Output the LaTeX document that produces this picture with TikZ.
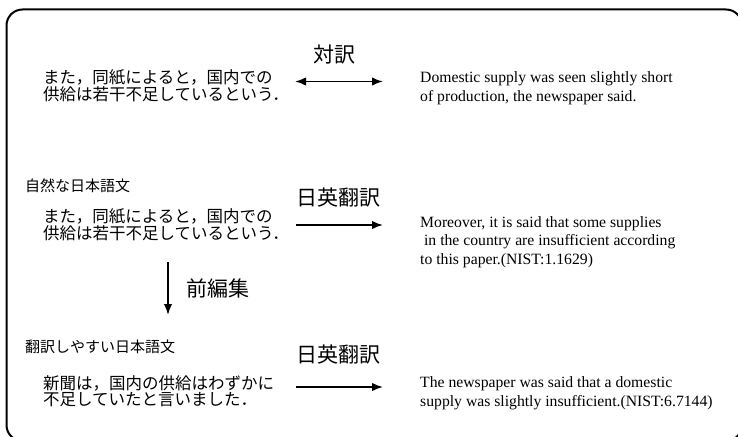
\documentclass[tikz,border=0pt]{standalone}
\usepackage{fontspec}
\setmainfont{Liberation Serif}
\newfontfamily\jp{Noto Sans CJK JP}
\usetikzlibrary{arrows.meta}
\tikzset{
  jptext/.style={anchor=west, inner sep=0pt, align=left, font={\jp\fontsize{16.5}{15.5}\selectfont}},
  entext/.style={anchor=west, inner sep=0pt, align=left, font={\fontsize{15.7}{18.5}\selectfont}},
  caption/.style={anchor=west, inner sep=0pt, font={\jp\fontsize{15}{15}\selectfont}},
  biglabel/.style={inner sep=0pt, font={\jp\fontsize{21}{21}\selectfont}},
  conn/.style={line width=1.8pt, -{Latex[length=11pt,width=8.5pt]}},
  dconn/.style={line width=1.8pt, {Latex[length=11pt,width=8.5pt]}-{Latex[length=11pt,width=8.5pt]}},
  frame/.style={line width=2pt, rounded corners=16pt}
}
\begin{document}
\begin{tikzpicture}[x=1pt,y=-1pt]
\useasboundingbox (0,0) rectangle (738,436);
\begin{scope}
\clip (0,0) rectangle (738,436);
\draw[frame] (6.5,9.5) rectangle (742,441);
\end{scope}

% row 1
\node[jptext] (jp1) at (43,86) {また，同紙によると，国内での\\供給は若干不足しているという．};
\node[entext] (en1) at (420,88) {Domestic supply was seen slightly short\\of production, the newspaper said.};
\node[biglabel] (l1) at (334,55) {対訳};
\coordinate (a1s) at (295,81.5);
\coordinate (a1e) at (383,81.5);
\draw[dconn] (a1s) -- (a1e);

% row 2
\node[caption] (c2) at (25,186) {自然な日本語文};
\node[jptext] (jp2) at (43,224.5) {また，同紙によると，国内での\\供給は若干不足しているという．};
\node[entext] (en2) at (420,242) {Moreover, it is said that some supplies\\\ in the country are insufficient according\\to this paper.(NIST:1.1629)};
\node[biglabel] (l2) at (338,198) {日英翻訳};
\coordinate (a2s) at (296,225);
\coordinate (a2e) at (383,225);
\draw[conn] (a2s) -- (a2e);

% pre-edit arrow
\coordinate (d1) at (168,262);
\coordinate (d2) at (168,315);
\draw[conn] (d1) -- (d2);
\node[biglabel] (l3) at (218,288) {前編集};

% row 3
\node[caption] (c3) at (25,347) {翻訳しやすい日本語文};
\node[jptext] (jp3) at (43,391) {新聞は，国内の供給はわずかに\\不足していたと言いました．};
\node[entext] (en3) at (420,393) {The newspaper was said that a domestic\\supply was slightly insufficient.(NIST:6.7144)};
\node[biglabel] (l4) at (338,355) {日英翻訳};
\coordinate (a3s) at (296,387);
\coordinate (a3e) at (383,387);
\draw[conn] (a3s) -- (a3e);
\end{tikzpicture}
\end{document}
